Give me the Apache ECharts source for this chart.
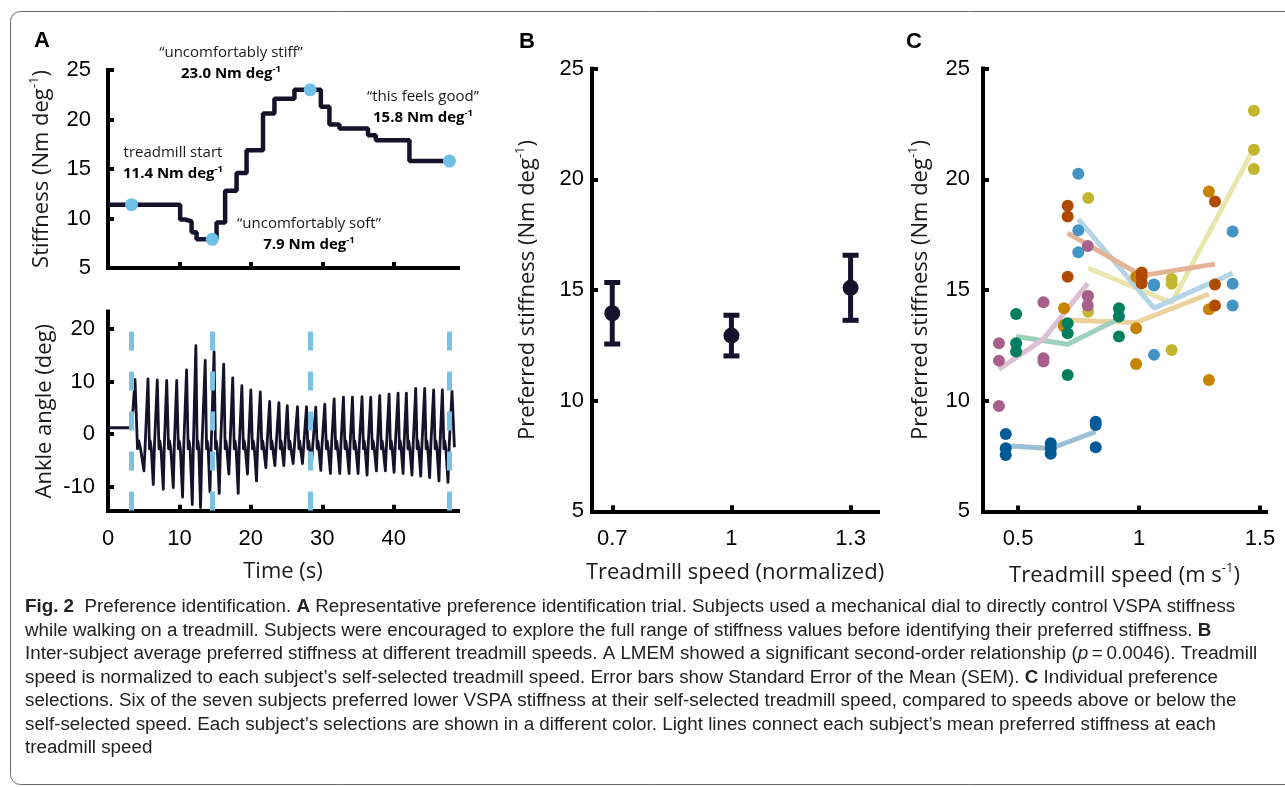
<!DOCTYPE html>
<html>
<head>
<meta charset="utf-8">
<script src="https://cdn.jsdelivr.net/npm/echarts@6/dist/echarts.min.js"></script>
<style>
html,body{margin:0;padding:0;background:#fff;}
#chartMain{width:1285px;height:787px;}
</style>
</head>
<body>
<div id="chartMain"></div>
<script>
// A: dial stiffness over the trial (s, Nm/deg), held until the next change
var stiffTimes = [0, 10.1, 10.8, 11.7, 12.4, 15.2, 16.4, 18.0, 19.4, 21.7, 23.3, 26.1, 29.8, 31.0, 32.4, 36.4, 37.5, 42.2, 47.8];
var stiffValues = [11.4, 9.9, 9.7, 8.6, 7.9, 9.6, 12.8, 14.6, 16.9, 20.6, 22.1, 23.0, 21.3, 19.5, 19.1, 18.4, 17.9, 15.8, 15.8];
// moments the subject spoke
var pickTimes = [3.3, 14.6, 28.3, 47.8];
var pickValues = [11.4, 7.9, 23.0, 15.8];

// A: ankle angle, read stride by stride (deg)
var angleStartT = [0, 3.2, 3.45];
var angleStartV = [1.2, 1.2, 3.8];
var peakT = [3.78, 5.6, 6.9, 8.22, 9.62, 11.0, 12.3, 13.61, 14.85, 16.2, 17.46, 18.74, 20.0, 21.32, 22.63, 23.93, 25.1, 26.53, 27.79,
  29.09, 30.35, 31.66, 32.96, 34.22, 35.57, 36.78, 38.04, 39.35, 40.61, 41.77, 43.08, 44.34, 45.59, 46.81, 48.16];
var peakV = [10.4, 10.5, 10.3, 10.2, 10.2, 12.2, 16.8, 14.0, 15.7, 13.3, 10.7, 9.2, 8.4, 8.0, 6.2, 6.0, 5.4, 5.2, 5.2,
  5.1, 5.7, 6.7, 7.0, 7.0, 7.1, 7.0, 7.3, 7.6, 7.8, 7.8, 8.7, 8.7, 8.4, 8.4, 8.1];
var troughT = [5.03, 6.34, 7.74, 9.14, 10.44, 11.8, 12.96, 14.27, 15.57, 16.92, 18.23, 19.53, 20.79, 22.1, 23.36, 24.62, 25.92,
  27.23, 28.48, 29.79, 31.14, 32.45, 33.75, 35.01, 36.27, 37.58, 38.83, 40.05, 41.31, 42.56, 43.78, 45.03, 46.34, 47.6];
var troughV = [-7.0, -9.6, -10.5, -10.2, -12.0, -13.4, -14.0, -11.0, -11.3, -7.6, -11.3, -7.6, -8.9, -6.4, -6.0, -6.0, -5.6,
  -5.6, -6.0, -6.9, -7.5, -7.5, -7.5, -7.5, -7.8, -7.0, -7.0, -7.3, -7.5, -7.8, -8.0, -8.3, -8.9, -9.2];
var restLow = -2.8, restHigh = -1.3, restMid = -2.2;
var angleEnd = [48.5, -2.5];
var timeTicks = [0, 10, 20, 30, 40];
var angleTicks = [-10, 0, 10, 20];

// B: normalized speed, mean and SEM of preferred stiffness
var normSpeeds = [0.7, 1.0, 1.3];
var meanStiff = [13.95, 12.94, 15.1];
var semStiff = [1.39, 0.92, 1.47];

// C: seven subjects, three speeds each (m/s), three picks per speed
var speedTicks = [0.5, 1, 1.5];
var subjectSpeeds = [
  [0.79, 1.135, 1.475],
  [0.69, 0.988, 1.289],
  [0.749, 1.062, 1.387],
  [0.705, 1.011, 1.314],
  [0.492, 0.705, 0.917],
  [0.421, 0.605, 0.788],
  [0.449, 0.635, 0.821]
];
var subjectPicks = [
  [[19.15, 14.73, 14.02], [15.5, 15.28, 12.29], [23.1, 21.33, 20.46]],
  [[14.18, 13.42, 13.35], [15.6, 13.27, 11.66], [19.45, 14.13, 10.94]],
  [[20.25, 17.7, 16.7], [15.25, 15.2, 12.07], [17.64, 15.28, 14.3]],
  [[18.81, 18.32, 15.6], [15.79, 15.6, 15.3], [19.0, 15.25, 14.3]],
  [[13.92, 12.6, 12.22], [13.5, 13.05, 11.16], [14.18, 13.8, 12.9]],
  [[12.6, 11.81, 9.76], [14.45, 11.92, 11.77], [16.99, 14.73, 14.3]],
  [[8.5, 7.85, 7.55], [8.08, 7.85, 7.6], [9.05, 8.9, 7.9]]
];
var subjectMeans = [
  [15.98, 14.43, 21.4],
  [13.65, 13.53, 14.82],
  [18.2, 14.18, 15.76],
  [17.57, 15.65, 16.17],
  [12.9, 12.55, 13.7],
  [11.42, 12.78, 15.3],
  [7.97, 7.84, 8.6]
];

var dotColors = ['#c4b52e', '#c78400', '#4394c4', '#b04a00', '#007f5f', '#a8608a', '#005a95'];
var lineColors = ['#e9e5ad', '#ecd19c', '#b5d5e6', '#e3b396', '#9dcfbd', '#dcbfd2', '#9cbfd6'];

var ink = '#15122b';
var tickFont = "'Liberation Sans'";
var nameFont = "'Open Sans'";

var myChart = echarts.init(document.getElementById('chartMain'));

function zip(xs, ys) {
  var out = [];
  for (var i = 0; i < xs.length; i++) out.push([xs[i], ys[i]]);
  return out;
}

// angle trace: peak, settle near rest with a small wiggle, trough, back up
function anglePoints() {
  var pts = zip(angleStartT, angleStartV);
  for (var i = 0; i < peakT.length; i++) {
    pts.push([peakT[i], peakV[i]]);
    if (i < troughT.length) {
      var span = troughT[i] - peakT[i];
      pts.push([peakT[i] + span * 0.28, restLow]);
      pts.push([peakT[i] + span * 0.42, restHigh]);
      pts.push([peakT[i] + span * 0.62, restLow]);
      pts.push([troughT[i], troughV[i]]);
      pts.push([troughT[i] + (peakT[i + 1] - troughT[i]) * 0.3, restMid]);
    }
  }
  pts.push(angleEnd);
  return pts;
}

function axisName(text, sup, tail) {
  return '{n|' + text + '}{s|' + sup + '}{n|' + tail + '}';
}
var nameStyle = {
  fontFamily: nameFont, fontSize: 22, color: '#1a1a1a',
  rich: {
    n: {fontFamily: nameFont, fontSize: 22, color: '#1a1a1a', lineHeight: 28},
    s: {fontFamily: nameFont, fontSize: 13, color: '#1a1a1a', lineHeight: 16, verticalAlign: 'top'}
  }
};
var plainName = {fontFamily: nameFont, fontSize: 22, color: '#1a1a1a'};

function baseAxis(extra) {
  var ax = {
    type: 'value',
    axisLine: {show: true, onZero: false, lineStyle: {color: '#000', width: 4, cap: 'square'}},
    axisTick: {show: true, inside: true, length: 6, lineStyle: {color: '#000', width: 4}},
    axisLabel: {color: '#000', fontFamily: tickFont, fontSize: 22, margin: 16},
    splitLine: {show: false}
  };
  for (var k in extra) {
    if (typeof extra[k] === 'object' && ax[k] && !Array.isArray(extra[k])) {
      for (var j in extra[k]) ax[k][j] = extra[k][j];
    } else {
      ax[k] = extra[k];
    }
  }
  return ax;
}

function renderErrorBar(params, api) {
  var x = api.value(0);
  var top = api.coord([x, api.value(2)]);
  var bot = api.coord([x, api.value(1)]);
  var cap = 8;
  var st = {stroke: ink, lineWidth: 5};
  return {
    type: 'group',
    children: [
      {type: 'line', shape: {x1: top[0], y1: top[1], x2: bot[0], y2: bot[1]}, style: st},
      {type: 'line', shape: {x1: top[0] - cap, y1: top[1], x2: top[0] + cap, y2: top[1]}, style: st},
      {type: 'line', shape: {x1: bot[0] - cap, y1: bot[1], x2: bot[0] + cap, y2: bot[1]}, style: st}
    ]
  };
}

var errorData = [];
for (var e = 0; e < normSpeeds.length; e++) {
  errorData.push([normSpeeds[e], meanStiff[e] - semStiff[e], meanStiff[e] + semStiff[e]]);
}

var series = [
  {
    type: 'line', xAxisIndex: 0, yAxisIndex: 0, step: 'end', showSymbol: false, z: 3,
    data: zip(stiffTimes, stiffValues),
    lineStyle: {color: ink, width: 4.5}
  },
  {
    type: 'scatter', xAxisIndex: 0, yAxisIndex: 0, z: 4, symbolSize: 13,
    data: zip(pickTimes, pickValues),
    itemStyle: {color: '#6fc0e6', opacity: 1}
  },
  {
    type: 'line', xAxisIndex: 1, yAxisIndex: 1, data: [], z: 1, silent: true,
    markLine: {
      silent: true, symbol: 'none', label: {show: false},
      lineStyle: {color: '#7cc3e3', width: 5, type: [19, 21], opacity: 1},
      data: pickTimes.map(function (t) { return [{coord: [t, 19.5]}, {coord: [t, -14.6]}]; })
    }
  },
  {
    type: 'line', xAxisIndex: 1, yAxisIndex: 1, showSymbol: false, z: 3,
    data: anglePoints(),
    lineStyle: {color: ink, width: 2.8, join: 'round'}
  },
  {
    type: 'custom', xAxisIndex: 2, yAxisIndex: 2, z: 3,
    renderItem: renderErrorBar,
    data: errorData
  },
  {
    type: 'scatter', xAxisIndex: 2, yAxisIndex: 2, z: 4, symbolSize: 16,
    data: zip(normSpeeds, meanStiff),
    itemStyle: {color: ink, opacity: 1}
  }
];

for (var s = 0; s < subjectSpeeds.length; s++) {
  series.push({
    type: 'line', xAxisIndex: 3, yAxisIndex: 3, showSymbol: false, z: 2,
    data: zip(subjectSpeeds[s], subjectMeans[s]),
    lineStyle: {color: lineColors[s], width: 5}
  });
}
for (var s2 = 0; s2 < subjectSpeeds.length; s2++) {
  var pts = [];
  for (var v = 0; v < 3; v++) {
    for (var r = 0; r < subjectPicks[s2][v].length; r++) {
      pts.push([subjectSpeeds[s2][v], subjectPicks[s2][v][r]]);
    }
  }
  series.push({
    type: 'scatter', xAxisIndex: 3, yAxisIndex: 3, z: 3, symbolSize: 12,
    data: pts,
    itemStyle: {color: dotColors[s2], opacity: 1}
  });
}

/*** text pieces: panel letters, spoken remarks, caption ***/
var annoRich = {
  b: {fontFamily: nameFont, fontSize: 15, fontWeight: 'bold', color: '#1a1a1a', lineHeight: 20},
  bs: {fontFamily: nameFont, fontSize: 9.5, fontWeight: 'bold', color: '#1a1a1a', lineHeight: 12, verticalAlign: 'top'}
};
function remark(x, y, quote, val) {
  return [
    {type: 'text', x: x, y: y, style: {text: quote, font: "15px 'Open Sans'", fill: '#1a1a1a', align: 'center', verticalAlign: 'middle'}},
    {type: 'text', x: x, y: y + 21, style: {text: '{b|' + val + '}{bs|-1}', rich: annoRich, align: 'center', verticalAlign: 'middle'}}
  ];
}

var capRich = {
  r: {font: "18.8px 'Liberation Sans'", fill: '#222'},
  b: {font: "bold 18.8px 'Liberation Sans'", fill: '#222'},
  i: {font: "italic 18.8px 'Liberation Sans'", fill: '#222'}
};
var captionLines = [
  '{b|Fig. 2}{r|  Preference identification. }{b|A}{r| Representative preference identification trial. Subjects used a mechanical dial to directly control VSPA stiffness}',
  '{r|while walking on a treadmill. Subjects were encouraged to explore the full range of stiffness values before identifying their preferred stiffness. }{b|B}',
  '{r|Inter-subject average preferred stiffness at different treadmill speeds. A LMEM showed a significant second-order relationship (}{i|p}{r|\u2009=\u20090.0046). Treadmill}',
  '{r|speed is normalized to each subject\u2019s self-selected treadmill speed. Error bars show Standard Error of the Mean (SEM). }{b|C}{r| Individual preference}',
  '{r|selections. Six of the seven subjects preferred lower VSPA stiffness at their self-selected treadmill speed, compared to speeds above or below the}',
  '{r|self-selected speed. Each subject\u2019s selections are shown in a different color. Light lines connect each subject\u2019s mean preferred stiffness at each}',
  '{r|treadmill speed}'
];
var captionY = [607, 631, 654, 678, 701, 725, 748];

var graphics = [
  {type: 'rect', shape: {x: 10.5, y: 11.5, width: 1320, height: 773, r: 10}, style: {fill: 'none', stroke: '#6b6b6b', lineWidth: 1}, silent: true},
  {type: 'text', x: 42, y: 41, style: {text: 'A', font: "bold 22px 'Liberation Sans'", fill: '#000', align: 'center', verticalAlign: 'middle'}},
  {type: 'text', x: 527, y: 42, style: {text: 'B', font: "bold 22px 'Liberation Sans'", fill: '#000', align: 'center', verticalAlign: 'middle'}},
  {type: 'text', x: 914, y: 42, style: {text: 'C', font: "bold 22px 'Liberation Sans'", fill: '#000', align: 'center', verticalAlign: 'middle'}}
];
graphics = graphics.concat(
  remark(173, 153, 'treadmill start', '11.4 Nm deg'),
  remark(231, 53, '\u201cuncomfortably stiff\u201d', '23.0 Nm deg'),
  remark(423, 97, '\u201cthis feels good\u201d', '15.8 Nm deg'),
  remark(309, 224, '\u201cuncomfortably soft\u201d', '7.9 Nm deg')
);
for (var c = 0; c < captionLines.length; c++) {
  graphics.push({type: 'text', x: 25, y: captionY[c], style: {text: captionLines[c], rich: capRich, align: 'left', verticalAlign: 'middle'}});
}

option = {
  animation: false,
  backgroundColor: '#fff',
  grid: [
    {left: 108, top: 70, width: 350, height: 198},
    {left: 108, top: 311.6, width: 350, height: 199.2},
    {left: 592, top: 68.7, width: 286, height: 442.6},
    {left: 983, top: 68.6, width: 283, height: 442.8}
  ],
  xAxis: [
    baseAxis({gridIndex: 0, min: 0, max: 49, axisTick: {customValues: timeTicks}, axisLabel: {show: false}}),
    baseAxis({gridIndex: 1, min: 0, max: 49, axisTick: {customValues: timeTicks}, axisLabel: {customValues: timeTicks, margin: 17},
      name: 'Time (s)', nameLocation: 'middle', nameGap: 50, nameTextStyle: plainName}),
    baseAxis({gridIndex: 2, min: 0.649, max: 1.369,
      axisTick: {customValues: normSpeeds}, axisLabel: {customValues: normSpeeds, margin: 17},
      name: 'Treadmill speed (normalized)', nameLocation: 'middle', nameGap: 50, nameTextStyle: plainName}),
    baseAxis({gridIndex: 3, min: 0.355, max: 1.525,
      axisTick: {customValues: speedTicks}, axisLabel: {customValues: speedTicks, margin: 17},
      name: axisName('Treadmill speed (m s', '-1', ')'), nameLocation: 'middle', nameGap: 50, nameTextStyle: nameStyle})
  ],
  yAxis: [
    baseAxis({gridIndex: 0, min: 5, max: 25, interval: 5, axisLabel: {margin: 17},
      name: axisName('Stiffness (Nm deg', '-1', ')'), nameLocation: 'middle', nameGap: 52, nameTextStyle: nameStyle}),
    baseAxis({gridIndex: 1, min: -14.6, max: 23.3,
      axisTick: {customValues: angleTicks}, axisLabel: {customValues: angleTicks, margin: 13},
      name: 'Ankle angle (deg)', nameLocation: 'middle', nameGap: 52, nameTextStyle: plainName}),
    baseAxis({gridIndex: 2, min: 5, max: 25, interval: 5, axisLabel: {margin: 8},
      name: axisName('Preferred stiffness (Nm deg', '-1', ')'), nameLocation: 'middle', nameGap: 50, nameTextStyle: nameStyle}),
    baseAxis({gridIndex: 3, min: 5, max: 25, interval: 5, axisLabel: {margin: 13},
      name: axisName('Preferred stiffness (Nm deg', '-1', ')'), nameLocation: 'middle', nameGap: 48, nameTextStyle: nameStyle})
  ],
  graphic: graphics,
  series: series
};

myChart.setOption(option);
</script>
</body>
</html>
